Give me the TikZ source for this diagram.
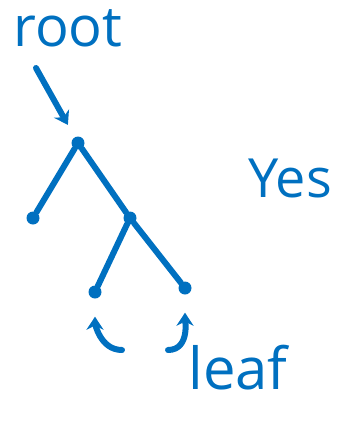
\documentclass[tikz,border=0pt]{standalone}
\usepackage{fontspec}
\setmainfont{Open Sans}
\usetikzlibrary{arrows.meta}
\definecolor{pen}{RGB}{0,112,192}

\begin{document}
\begin{tikzpicture}[
                x=1pt, y=-1pt,
                >={Stealth[length=13pt,width=17pt]},
                dot/.style={
                    circle,
                    fill=pen,
                    inner sep=0pt,
                    minimum size=13pt
                },
                edge/.style={
                    draw=pen,
                    line width=6pt,
                    line cap=round
                },
                hook/.style={
                    ->,
                    draw=pen,
                    line width=6pt,
                    line cap=round
                },
                ink/.style={text=pen, inner sep=0pt}
            ]
                \useasboundingbox (0,0) rectangle (345,421);

                % tree
                \node[dot] (root) at (78,143) {};
                \node[dot] (left) at (33,218) {};
                \node[dot] (mid) at (130,218) {};
                \node[dot] (leafa) at (95,292) {};
                \node[dot] (leafb) at (185,288) {};

                \draw[edge] (root) -- (left);
                \draw[edge] (root) -- (mid);
                \draw[edge] (mid) -- (leafa);
                \draw[edge] (mid) -- (leafb);

                % labels
                \node[ink, font=\fontsize{56}{60}\selectfont] (rootlbl) at (68,28) {root};
                \node[ink, font=\fontsize{54}{58}\selectfont] (yes) at (290,178) {Yes};
                \node[ink, font=\fontsize{58}{62}\selectfont] (leaflbl) at (238,368) {leaf};

                % pointers
                \coordinate (roottail) at (36,68);
                \coordinate (atail) at (122,350);
                \coordinate (btail) at (168,350);

                \draw[hook, shorten >=14pt] (roottail) -- (root);
                \draw[hook, shorten >=18pt] (atail) to[out=180, in=-90] (leafa);
                \draw[hook, shorten >=18pt] (btail) to[out=0, in=-90] (leafb);
            \end{tikzpicture}
\end{document}
